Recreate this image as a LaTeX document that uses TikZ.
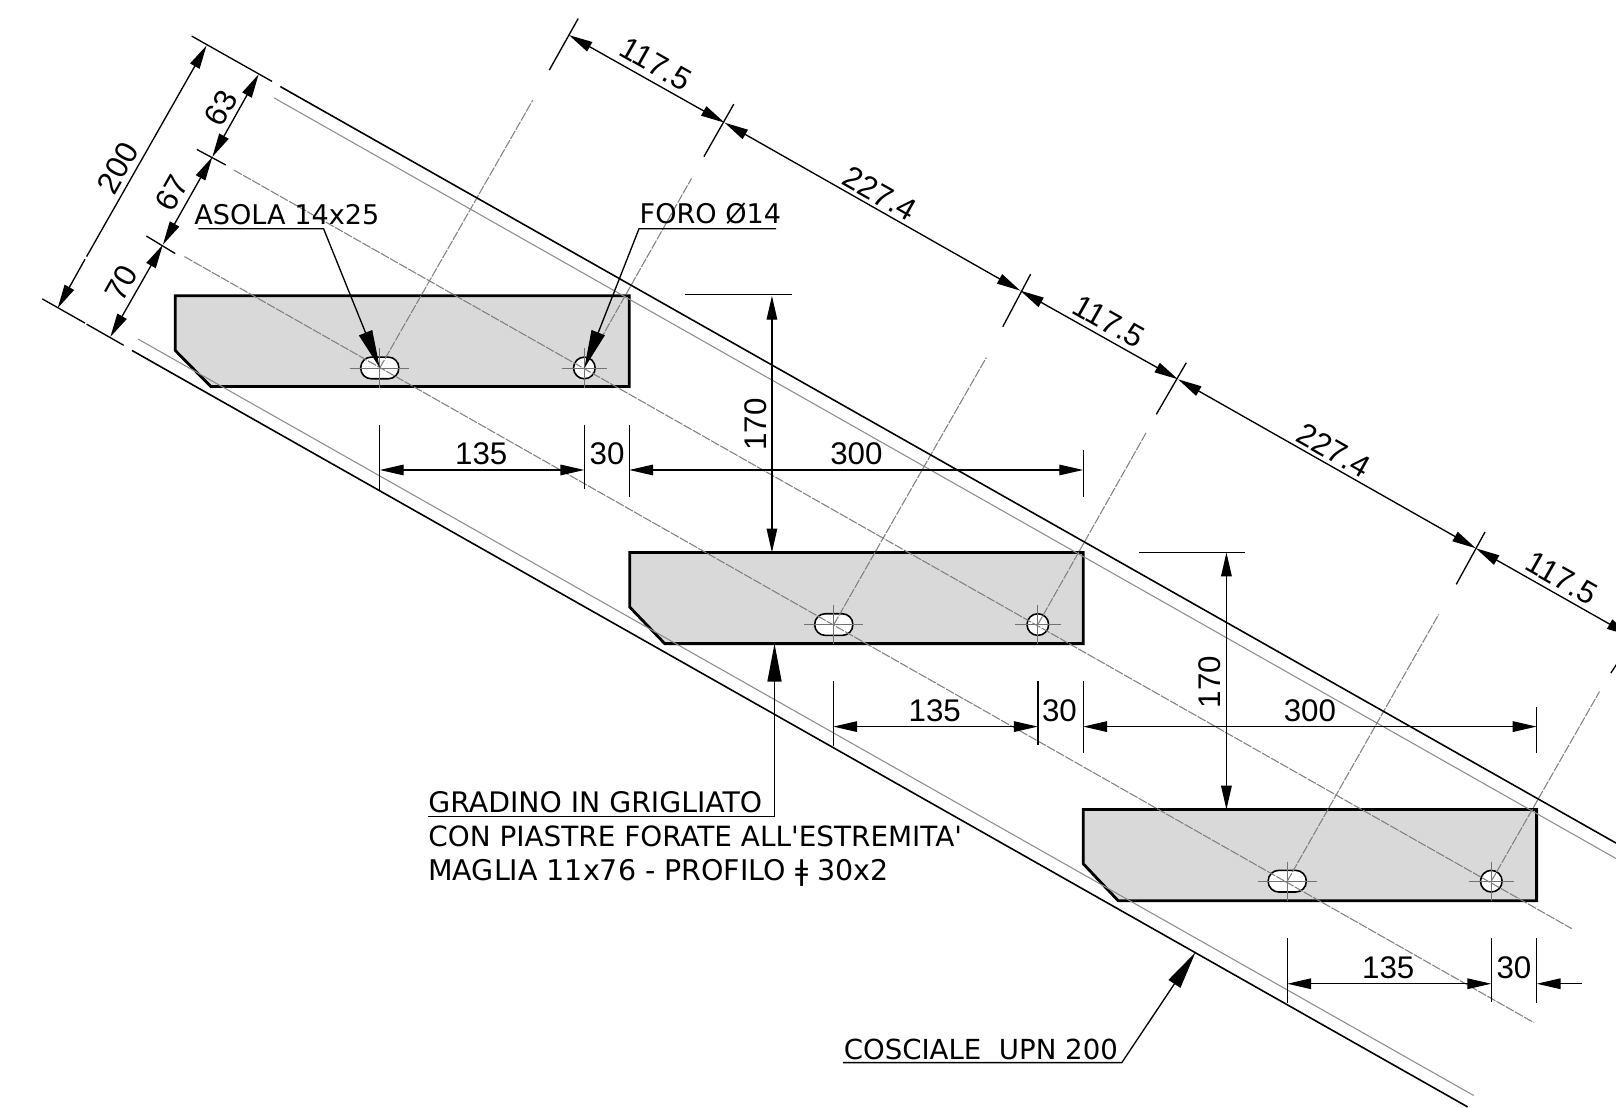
\documentclass[tikz,border=0pt]{standalone}
\usepackage{fontspec}
\usepackage{tikz}
\usetikzlibrary{arrows.meta}
\setmainfont{Liberation Sans}
\newfontfamily\notefont{DejaVu Sans}
\tikzset{
  steel/.style={line width=0.45pt},
  axisline/.style={line width=0.3pt,draw=black!50,dash pattern=on 2.6pt off 0.4pt},
  innerline/.style={line width=0.3pt,draw=black!45},
  crossline/.style={line width=0.25pt,draw=black!55},
  stepplate/.style={line width=0.8pt,fill=black!15,line join=miter},
  holeline/.style={line width=0.45pt,fill=white,rounded corners=3pt},
  extline/.style={line width=0.38pt},
  endtip/.tip={Triangle[length=6.8pt,width=3pt]},
  dimline/.style={line width=0.38pt,endtip-endtip},
  leader/.style={line width=0.38pt,-{Triangle[length=10.8pt,width=4pt]}},
  dimtext/.style={font=\fontsize{8.9}{10}\selectfont,inner sep=0pt},
  notetext/.style={font=\notefont\fontsize{#1}{10}\selectfont,inner sep=0pt,anchor=base west},
  notetext/.default=7.7,
}
\begin{document}
\begin{tikzpicture}[x=0.010306cm,y=-0.010306cm,line cap=butt]
\useasboundingbox (0,0) rectangle (1568,1075);
\clip (0,0) rectangle (1568,1075);
\def\Sl{-29.5}  % slope of the stringer
\def\Up{60.5}   % text along the section
% grating steps
\draw[stepplate] (170,287) -- (610.5,287) -- (610.5,375) -- (204.5,375) -- (170,340) -- cycle;
\draw[stepplate] (611,536) -- (1051,536) -- (1051,624.5) -- (645,624.5) -- (611,589) -- cycle;
\draw[stepplate] (1051,785.5) -- (1491,785.5) -- (1491,874) -- (1085,874) -- (1051,838) -- cycle;
% slots and holes
\draw[holeline] (350,346.5) rectangle (387,367.5);
\draw[holeline] (790.5,595.5) rectangle (827.5,616.5);
\draw[holeline] (1230.5,844.5) rectangle (1267.5,865.5);
\draw[holeline] (567,357) circle (10.5);
\draw[holeline] (1007,606) circle (10.5);
\draw[holeline] (1447,855) circle (10.5);
% centre marks
\draw[crossline] (340,357) -- (397,357) (368.5,338) -- (368.5,376);
\draw[crossline] (780.5,606) -- (837.5,606) (809,587) -- (809,625);
\draw[crossline] (1220.5,855) -- (1277.5,855) (1249,836) -- (1249,874);
\draw[crossline] (545,357) -- (589,357) (567,338) -- (567,376);
\draw[crossline] (985,606) -- (1029,606) (1007,587) -- (1007,625);
\draw[crossline] (1425,855) -- (1469,855) (1447,836) -- (1447,874);
% centre lines of the holes
\draw[axisline] (368.5,357) -- (517,97);
\draw[axisline] (567,357) -- (671,173);
\draw[axisline] (809,606) -- (957,347);
\draw[axisline] (1007,606) -- (1112,420);
\draw[axisline] (1249,855) -- (1396,596);
\draw[axisline] (1447,855) -- (1552,671);
\draw[axisline] (227,165) -- (1525,901);
\draw[axisline] (179,249) -- (1488,992);
% stringer
\draw[steel] (272,84) -- (1568,818);
\draw[steel] (128,340) -- (1424,1074);
\draw[innerline] (266,95) -- (1568,833);
\draw[innerline] (134,329) -- (1430,1063);
% section dimensions
\draw[extline] (186,35) -- (264,79);
\draw[extline] (41,290) -- (82.5,313.5) (84,314.5) -- (120,335);
\draw[extline] (191,145) -- (219,160);
\draw[extline] (142,229) -- (170,246);
\draw[line width=0.38pt,endtip-] (200.5,44) -- (84,249);
\draw[line width=0.38pt,-endtip] (82.5,251.5) -- (56,299);
\draw[dimline] (251,72) -- (206,152.3);
\draw[dimline] (206,152.3) -- (158,237.5);
\draw[dimline] (158,237.5) -- (107,327);
\node[dimtext,rotate=\Up] (wtot) at (114,163) {200};
\node[dimtext,rotate=\Up] (wtop) at (214.5,105) {63};
\node[dimtext,rotate=\Up] (wmid) at (167,187.5) {67};
\node[dimtext,rotate=\Up] (wlow) at (118,275) {70};
% dimensions along the stringer
\draw[extline] (561,18) -- (533,68);
\draw[extline] (712,101) -- (683,152);
\draw[extline] (1000,266) -- (973,317);
\draw[extline] (1151,352) -- (1122,402);
\draw[extline] (1441,516) -- (1413,567);
\draw[extline] (1590,612) -- (1563,653);
\draw[dimline] (552,34) -- (703,119);
\draw[dimline] (703,119) -- (990,282);
\draw[dimline] (990,282) -- (1143,368);
\draw[dimline] (1143,368) -- (1432,532);
\draw[dimline] (1432,532) -- (1582,617);
\node[dimtext,rotate=\Sl] (along1) at (636,62) {117.5};
\node[dimtext,rotate=\Sl] (along2) at (854,188) {227.4};
\node[dimtext,rotate=\Sl] (along3) at (1076,312) {117.5};
\node[dimtext,rotate=\Sl] (along4) at (1294,437) {227.4};
\node[dimtext,rotate=\Sl] (along5) at (1515,561) {117.5};
% first row
\draw[extline] (368.5,412) -- (368.5,476);
\draw[extline] (567,412) -- (567,474);
\draw[extline] (610.5,412) -- (610.5,482);
\draw[extline] (1051,437) -- (1051,482);
\draw[dimline] (368.5,456) -- (567,456);
\draw[dimline] (610.5,456) -- (1051,456);
\node[dimtext] (hole1) at (467,440) {135};
\node[dimtext] (edge1) at (589,440) {30};
\node[dimtext] (tread1) at (831,440) {300};
% second row
\draw[extline] (808.5,661) -- (808.5,724);
\draw[extline] (1007,661) -- (1007,723);
\draw[extline] (1051,661) -- (1051,731);
\draw[extline] (1491,686) -- (1491,731);
\draw[dimline] (808.5,705) -- (1007,705);
\draw[dimline] (1051,705) -- (1491,705);
\node[dimtext] (hole2) at (907,689.5) {135};
\node[dimtext] (edge2) at (1028,689.5) {30};
\node[dimtext] (tread2) at (1271,689.5) {300};
% third row
\draw[extline] (1249,910) -- (1249,973);
\draw[extline] (1447,910) -- (1447,972);
\draw[extline] (1491,910) -- (1491,973);
\draw[dimline] (1249,954.5) -- (1447,954.5);
\draw[line width=0.38pt,endtip-] (1491,954.5) -- (1535,954.5);
\node[dimtext] (hole3) at (1347,938.5) {135};
\node[dimtext] (edge3) at (1469,938.5) {30};
% rise
\draw[extline] (665,286) -- (768,286);
\draw[extline] (1105,536) -- (1208,536);
\draw[dimline] (749,287) -- (749,536);
\draw[dimline] (1190,536) -- (1190,785.5);
\node[dimtext,rotate=90] (rise1) at (733,412) {170};
\node[dimtext,rotate=90] (rise2) at (1174,662) {170};
% notes
\node[notetext] (asola) at (188,218) {ASOLA 14x25};
\node[notetext] (foro) at (620,217) {FORO Ø14};
\node[notetext=8.05] (grad1) at (415,788) {GRADINO IN GRIGLIATO};
\node[notetext=7.93] (grad2) at (415,821) {CON PIASTRE FORATE ALL'ESTREMITA'};
\node[notetext=8.1] (grad3) at (415,854.5) {MAGLIA 11x76 - PROFILO ǂ 30x2};
\node[notetext=7.85] (cosc) at (818,1028) {COSCIALE\ \ UPN 200};
\draw[leader] (192.5,222) -- (314,222) -- (368.5,357);
\draw[leader] (753,222) -- (620,222) -- (567,357);
\draw[leader] (415,792) -- (751.5,792) -- (751.5,624.5);
\draw[leader] (818,1031) -- (1088.5,1031) -- (1160,924);
\end{tikzpicture}
\end{document}
